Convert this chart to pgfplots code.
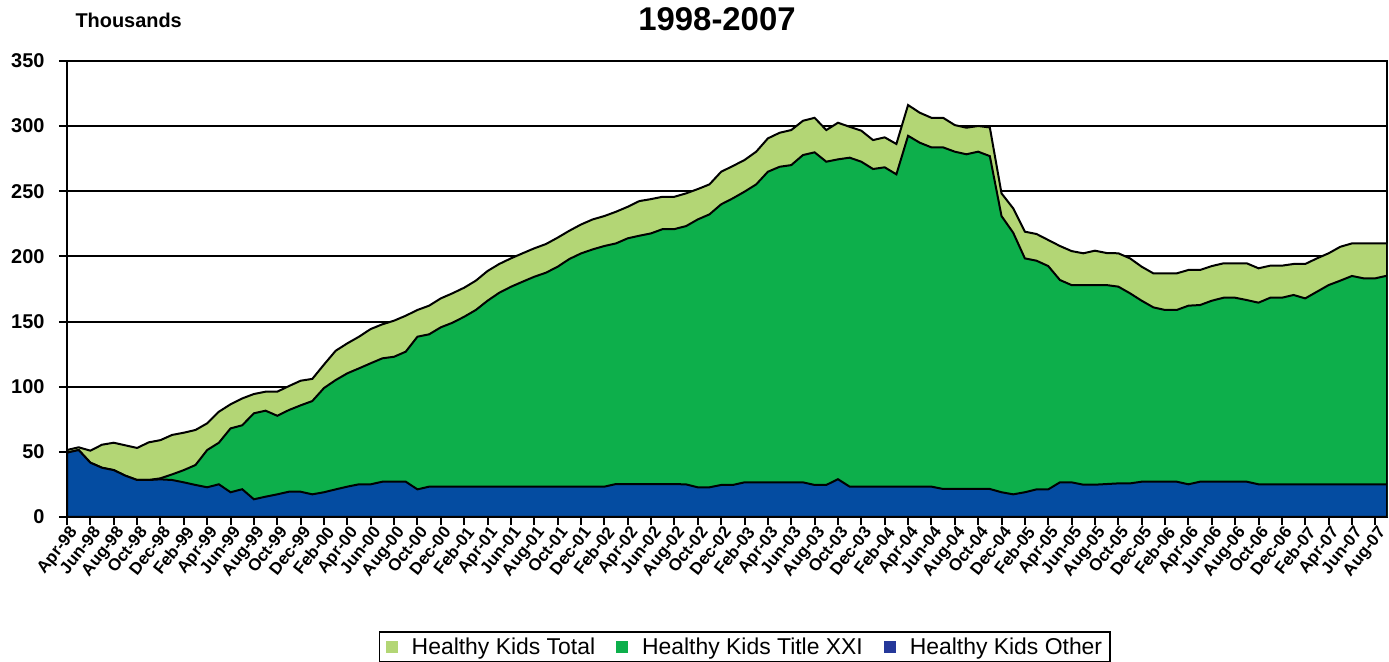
\documentclass[border=0pt]{standalone}
\usepackage{fontspec}
\setmainfont{Liberation Sans}
\usepackage{pgfplots}
\usepackage{pgfplotstable}
\pgfplotsset{compat=1.18}
\definecolor{lgarea}{HTML}{B3D675}
\definecolor{garea}{HTML}{0DAF4B}
\definecolor{barea}{HTML}{044CA1}
\definecolor{blegend}{HTML}{25389A}
\pgfplotstableread{
i T G B
0 51.4 49.4 49.4
1 53.5 51.4 51.4
2 50.9 41.7 41.7
3 55.5 37.8 37.8
4 57.0 36.0 36.0
5 55.0 31.7 31.7
6 53.0 28.4 28.4
7 57.3 28.4 28.4
8 59.0 29.7 28.9
9 63.0 32.7 28.4
10 64.7 36.0 26.6
11 66.8 39.9 24.6
12 71.9 51.4 22.8
13 80.8 57.0 25.1
14 86.5 68.0 19.0
15 91.0 70.4 21.3
16 94.4 79.6 13.6
17 96.2 81.6 15.6
18 96.2 77.7 17.4
19 100.5 82.1 19.4
20 104.6 85.7 19.4
21 106.0 89.0 17.4
22 117.0 99.0 19.0
23 127.6 105.1 21.2
24 133.3 110.3 23.3
25 138.4 114.1 25.1
26 144.3 118.0 25.1
27 147.9 121.8 27.1
28 150.7 123.0 27.1
29 154.5 126.9 27.1
30 158.9 138.4 21.2
31 162.2 140.2 23.3
32 167.8 145.6 23.3
33 171.7 149.1 23.3
34 176.0 153.7 23.3
35 181.4 158.9 23.3
36 188.8 166.0 23.3
37 194.2 172.1 23.3
38 198.5 176.7 23.3
39 202.4 180.6 23.3
40 206.2 184.4 23.3
41 209.5 187.5 23.3
42 214.4 192.1 23.3
43 219.7 198.0 23.3
44 224.5 202.3 23.3
45 228.4 205.4 23.3
46 231.0 208.0 23.3
47 234.3 210.0 25.3
48 238.1 213.9 25.3
49 242.5 215.9 25.3
50 244.0 217.7 25.3
51 245.8 221.0 25.3
52 245.8 221.0 25.3
53 248.4 223.3 25.0
54 251.7 228.4 22.8
55 255.3 232.3 22.8
56 265.0 240.0 24.6
57 269.4 244.6 24.6
58 274.0 249.7 26.6
59 280.4 255.3 26.6
60 290.6 265.0 26.6
61 294.9 268.8 26.6
62 297.0 270.1 26.6
63 304.1 277.8 26.6
64 306.4 279.9 24.6
65 297.0 272.7 24.6
66 302.6 274.5 29.0
67 299.5 275.8 23.3
68 296.5 272.7 23.3
69 289.3 267.1 23.3
70 291.4 268.4 23.3
71 286.3 263.0 23.3
72 316.2 292.6 23.3
73 310.3 287.3 23.3
74 306.4 283.7 23.3
75 306.4 283.7 21.5
76 300.8 280.4 21.5
77 298.8 278.4 21.5
78 300.1 280.4 21.5
79 299.0 277.0 21.5
80 248.4 231.0 19.0
81 236.9 218.2 17.4
82 219.0 198.5 19.0
83 217.2 196.7 21.2
84 212.6 192.6 21.2
85 208.0 181.9 26.6
86 204.1 178.0 26.6
87 202.4 178.0 24.8
88 204.4 178.0 24.8
89 202.6 178.0 25.3
90 202.4 176.8 25.8
91 198.5 171.7 25.8
92 192.1 166.0 27.1
93 187.0 160.9 27.1
94 187.0 158.9 27.1
95 187.0 158.9 27.1
96 189.6 162.2 25.1
97 189.6 162.7 27.1
98 192.6 166.0 27.1
99 194.7 168.3 27.1
100 194.7 168.3 27.1
101 194.7 166.5 27.1
102 190.9 164.5 25.1
103 192.9 168.3 25.1
104 192.9 168.3 25.1
105 194.2 170.4 25.1
106 194.2 167.8 25.1
107 198.5 172.9 25.1
108 202.4 178.0 25.1
109 207.4 181.4 25.1
110 210.0 185.0 25.1
111 210.0 183.2 25.1
112 210.0 183.2 25.1
113 210.0 185.2 25.1
}\datatable
\begin{document}
\begin{tikzpicture}
\begin{axis}[
  at={(67bp,145bp)}, anchor=south west,
  scale only axis, width=1320bp, height=456bp,
  xmin=0, xmax=113, ymin=0, ymax=350,
  axis lines=box,
  axis line style={black, line width=2bp},
  xtick={0,2,...,112},
  xticklabels={Apr-98,Jun-98,Aug-98,Oct-98,Dec-98,
    Feb-99,Apr-99,Jun-99,Aug-99,Oct-99,Dec-99,
    Feb-00,Apr-00,Jun-00,Aug-00,Oct-00,Dec-00,
    Feb-01,Apr-01,Jun-01,Aug-01,Oct-01,Dec-01,
    Feb-02,Apr-02,Jun-02,Aug-02,Oct-02,Dec-02,
    Feb-03,Apr-03,Jun-03,Aug-03,Oct-03,Dec-03,
    Feb-04,Apr-04,Jun-04,Aug-04,Oct-04,Dec-04,
    Feb-05,Apr-05,Jun-05,Aug-05,Oct-05,Dec-05,
    Feb-06,Apr-06,Jun-06,Aug-06,Oct-06,Dec-06,
    Feb-07,Apr-07,Jun-07,Aug-07},
  ytick={0,50,...,350},
  xtick pos=left, ytick pos=left,
  tick align=outside,
  major tick length=8bp,
  tick style={black, line width=2bp},
  ymajorgrids,
  grid style={black, line width=2bp},
  /pgf/number format/assume math mode=true,
  yticklabel style={font=\bfseries\fontsize{20}{21}\selectfont, xshift=-11bp},
  xticklabel style={font=\bfseries\fontsize{17}{18}\selectfont, rotate=52, anchor=north east, xshift=1bp, yshift=-1bp, inner sep=0bp},
  legend columns=3,
  legend image code/.code={\fill[#1] (0bp,-6bp) rectangle (12bp,6bp);},
  legend style={at={(0.5136,-0.25)}, anchor=north, draw=black, line width=1.5bp,
    font=\fontsize{23}{25}\selectfont, inner xsep=6bp, inner ysep=4bp,
    /tikz/every odd column/.append style={column sep=12bp},
    /tikz/every even column/.append style={column sep=19bp}},
]
\addplot[fill=lgarea, draw=black, line width=2bp, forget plot] table[x=i,y=T] \datatable \closedcycle;
\addplot[fill=garea, draw=black, line width=2bp, forget plot] table[x=i,y=G] \datatable \closedcycle;
\addplot[fill=barea, draw=black, line width=2bp, forget plot] table[x=i,y=B] \datatable \closedcycle;
\addlegendimage{fill=lgarea, draw=none}
\addlegendentry{Healthy Kids Total}
\addlegendimage{fill=garea, draw=none}
\addlegendentry{Healthy Kids Title XXI}
\addlegendimage{fill=blegend, draw=none}
\addlegendentry{Healthy Kids Other}
\end{axis}
\node[anchor=west, font=\bfseries\fontsize{20}{21}\selectfont] at (72bp,642bp) {Thousands};
\node[font=\bfseries\fontsize{33}{34}\selectfont] at (717bp,643bp) {1998-2007};
\pgfresetboundingbox
\path[use as bounding box] (0,0) rectangle (1389bp,662bp);
\end{tikzpicture}
\end{document}
